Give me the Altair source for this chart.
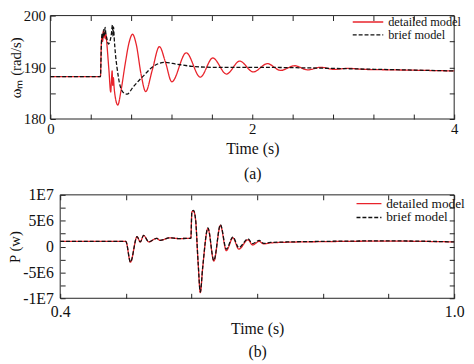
import altair as alt
import pandas as pd

# ---- panel (a): rotor speed (rad/s) vs time (s) ----
ta_det = [0, 0.496, 0.505, 0.512, 0.518, 0.524, 0.53, 0.537, 0.545, 0.552, 0.56, 0.58, 0.598, 0.604, 0.612,
          0.618, 0.624, 0.632, 0.645, 0.668, 0.70, 0.74, 0.78, 0.814, 0.85, 0.90, 0.944, 1.01, 1.08, 1.14,
          1.203, 1.346, 1.485, 1.609, 1.745, 1.875, 2.01, 2.15, 2.28, 2.42, 2.55, 2.68, 2.81, 2.95, 3.1,
          3.4, 3.7, 4.0]
wa_det = [188.2, 188.2, 194.5, 196.0, 195.0, 197.0, 195.8, 196.8, 195.5, 196.3, 194.5, 189.5, 185.2, 187.0, 189.3,
          186.5, 188.0, 186.0, 184.0, 182.7, 185.5, 190.5, 194.8, 196.4, 194.5, 188.5, 185.3, 189.5, 194.0, 191.0,
          187.2, 192.8, 188.1, 191.8, 188.7, 191.2, 189.1, 190.7, 189.4, 190.3, 189.5, 190.0, 189.6, 189.8, 189.6,
          189.5, 189.4, 189.3]
ta_brf = [0, 0.496, 0.505, 0.512, 0.52, 0.527, 0.535, 0.542, 0.55, 0.56, 0.575, 0.59, 0.605, 0.615, 0.62,
          0.626, 0.632, 0.645, 0.66, 0.69, 0.73, 0.76, 0.82, 0.92, 1.015, 1.13, 1.25, 1.4, 1.6, 2.0, 2.5,
          3.0, 3.5, 4.0]
wa_brf = [188.2, 188.2, 194.0, 196.5, 195.5, 197.3, 196.2, 197.7, 196.5, 195.5, 194.5, 195.0, 196.5, 198.2, 196.0,
          197.8, 195.8, 192.5, 190.0, 186.5, 185.0, 184.8, 186.2, 188.3, 190.1, 190.95, 190.6, 190.2, 190.0, 190.0,
          189.9, 189.7, 189.5, 189.3]

# ---- panel (b): power (units of 1E6 W) vs time (s) ----
tb_brf = [0.4, 0.5, 0.507, 0.517, 0.522, 0.527, 0.535, 0.547, 0.552, 0.567, 0.58, 0.599, 0.6005, 0.603, 0.606,
          0.61, 0.6134, 0.617, 0.625, 0.634, 0.644, 0.653, 0.663, 0.672, 0.686, 0.693, 0.703, 0.71, 0.72, 0.75,
          0.8, 0.9, 1.0]
pb_brf = [1.0, 1.0, -3.0, 1.9, 0.9, 2.15, 0.9, 1.6, 1.2, 1.7, 1.55, 1.6, 6.8, 7.0, 5.5,
          -3.0, -8.8, -4.0, 3.6, -2.7, 4.25, -0.5, 1.85, -0.2, 1.5, 0.55, 1.2, 0.6, 0.8, 0.9,
          1.0, 1.1, 0.9]
tb_det = [0.4, 0.5, 0.507, 0.517, 0.522, 0.527, 0.535, 0.547, 0.552, 0.567, 0.58, 0.599, 0.6005, 0.603, 0.606,
          0.61, 0.6134, 0.617, 0.625, 0.634, 0.644, 0.653, 0.663, 0.672, 0.686, 0.693, 0.703, 0.71, 0.72, 0.75,
          0.8, 0.9, 1.0]
pb_det = [1.0, 1.0, -3.0, 1.9, 0.9, 2.15, 0.9, 1.6, 1.2, 1.7, 1.55, 1.6, 6.7, 6.9, 5.4,
          -3.1, -8.9, -4.1, 3.5, -2.8, 4.1, -0.8, 1.7, -0.5, 1.3, 0.3, 1.0, 0.5, 0.7, 0.85,
          0.95, 1.05, 0.9]

series_names = ["detailed model", "brief model"]
colors = ["#e8232b", "#111111"]
dashes = [[1, 0], [4, 2]]

xa_dom, ya_dom = [0, 4], [180, 200]
xb_dom, yb_dom = [0.4, 1.0], [-1e7, 1e7]
xa_ticks = [round(0.4 * i, 1) for i in range(11)]
ya_ticks = [180, 185, 190, 195, 200]
xb_ticks = [0.4, 0.5, 0.6, 0.7, 0.8, 0.9, 1.0]
yb_ticks = [-1e7, -7.5e6, -5e6, -2.5e6, 0, 2.5e6, 5e6, 7.5e6, 1e7]

dfa = pd.concat([
    pd.DataFrame({"t": ta_det, "v": wa_det, "s": series_names[0]}),
    pd.DataFrame({"t": ta_brf, "v": wa_brf, "s": series_names[1]}),
])
dfb = pd.concat([
    pd.DataFrame({"t": tb_det, "v": [p * 1e6 for p in pb_det], "s": series_names[0]}),
    pd.DataFrame({"t": tb_brf, "v": [p * 1e6 for p in pb_brf], "s": series_names[1]}),
])
frame_a = pd.DataFrame({"x0": [xa_dom[0]], "x1": [xa_dom[1]], "y0": [ya_dom[0]], "y1": [ya_dom[1]]})
frame_b = pd.DataFrame({"x0": [xb_dom[0]], "x1": [xb_dom[1]], "y0": [yb_dom[0]], "y1": [yb_dom[1]]})

FONT = "Liberation Serif"
INK = "#111111"
W, H = 410, 287          # whole drawing area (both panels)
HA, GAP_TOP_B = 105, 182  # panel (a) height; top of panel (b)
XB0 = 10                  # left inset of panel (b)

sxa = alt.Scale(domain=xa_dom, range=[0, W], nice=False, zero=False)
sya = alt.Scale(domain=ya_dom, range=[HA, 0], nice=False, zero=False)
sxb = alt.Scale(domain=xb_dom, range=[XB0, W], nice=False, zero=False)
syb = alt.Scale(domain=yb_dom, range=[H, GAP_TOP_B], nice=False, zero=False)


def tick_axis(orient, values, offset):
    return alt.Axis(orient=orient, values=values, labels=False, title=None, offset=offset, tickSize=5,
                    domain=False, grid=False, tickColor="#222", tickWidth=1)


def text_axis(orient, values, offset, expr, lfs, lpad, title, tfs, tpad, lineh=None):
    kw = dict(orient=orient, values=values, offset=offset, tickSize=5, domain=False, grid=False,
              tickColor="#222", tickWidth=1, labelExpr=expr, labelFont=FONT, labelFontSize=lfs,
              labelColor=INK, labelPadding=lpad, labelFlush=False, labelOverlap=False,
              title=title, titleFont=FONT, titleFontSize=tfs, titleFontWeight="normal",
              titleColor=INK, titlePadding=tpad)
    if lineh is not None:
        kw["titleLineHeight"] = lineh
    return alt.Axis(**kw)


def legend(x, y, size, fs):
    return alt.Legend(title=None, orient="none", legendX=x, legendY=y, symbolType="stroke",
                      symbolSize=size, symbolStrokeWidth=1.3, labelFont=FONT, labelFontSize=fs,
                      labelColor=INK, rowPadding=0, padding=0, clipHeight=13, labelOffset=4)


def lines(df, sx, sy, xaxis, yaxis, leg):
    return alt.Chart(df).mark_line(strokeWidth=1.3, interpolate="monotone").encode(
        x=alt.X("t:Q", scale=sx, axis=xaxis),
        y=alt.Y("v:Q", scale=sy, axis=yaxis),
        color=alt.Color("s:N", scale=alt.Scale(domain=series_names, range=colors), legend=leg),
        strokeDash=alt.StrokeDash("s:N", scale=alt.Scale(domain=series_names, range=dashes), legend=leg),
        detail="s:N",
    )


def frame(df, sx, sy, xaxis, yaxis):
    return alt.Chart(df).mark_rect(filled=False, stroke="#222", strokeWidth=1).encode(
        x=alt.X("x0:Q", scale=sx, axis=xaxis), x2="x1:Q",
        y=alt.Y("y0:Q", scale=sy, axis=yaxis), y2="y1:Q",
    )


# panel (a)
la = lines(
    dfa, sxa, sya,
    text_axis("bottom", xa_ticks, -(H - HA) - 5,
              "datum.value == 0 ? '0' : datum.value == 2 ? '2' : datum.value == 4 ? '4' : ''",
              15, 2.5, ["Time (s)", "(a)"], 16, 4.5, 25),
    text_axis("left", ya_ticks, -5, "datum.value % 10 == 0 ? format(datum.value, 'd') : ''",
              15, 5, "ωₘ (rad/s)", 15, 0),
    legend(306, 0, 960, 12.5),
)
fa = frame(frame_a, sxa, sya, tick_axis("top", xa_ticks, -5), tick_axis("right", ya_ticks, -5))

# panel (b)
lb = lines(
    dfb, sxb, syb,
    text_axis("bottom", xb_ticks, -5,
              "datum.value == 0.4 || datum.value == 1 ? format(datum.value, '.1f') : ''",
              16, 6, ["Time (s)", "(b)"], 16, 1, 23),
    text_axis("left", yb_ticks, -(XB0 + 5),
              "datum.value == 0 ? '0' : abs(datum.value) == 1e7 ? (datum.value < 0 ? '-' : '') + '1E7' : "
              "abs(datum.value) == 5e6 ? (datum.value < 0 ? '-' : '') + '5E6' : ''",
              16, 7, "P (w)", 15, 0),
    legend(310, GAP_TOP_B + 2.5, 640, 13.5),
)
fb = frame(frame_b, sxb, syb, tick_axis("top", xb_ticks, -GAP_TOP_B - 5), tick_axis("right", yb_ticks, -5))

chart = alt.layer(la, fa, lb, fb).resolve_scale(
    x="independent", y="independent", color="independent", strokeDash="independent"
).resolve_axis(x="independent", y="independent").resolve_legend(
    color="independent", strokeDash="independent"
).properties(
    width=W, height=H, background="white",
    autosize=alt.AutoSizeParams(type="none"),
    padding={"left": 43, "top": 5, "right": 12, "bottom": 62},
).configure_view(strokeOpacity=0).configure_axis(
    labelFont=FONT, titleFont=FONT, titleFontWeight="normal", labelColor=INK, titleColor=INK
)

chart.save("out.html", embed_options={"renderer": "svg", "actions": False})
